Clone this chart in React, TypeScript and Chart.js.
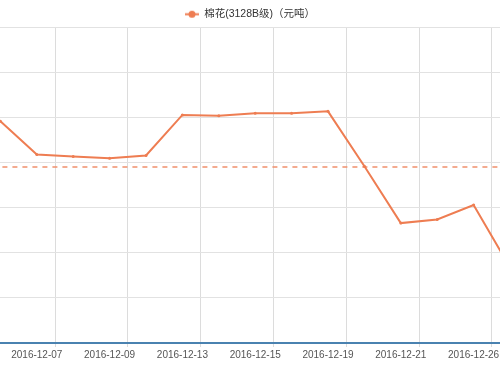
import React, { useEffect, useRef } from 'react';
import { Chart, registerables } from 'chart.js';

Chart.register(...registerables);

// Trading dates (category order) and cotton price values (yuan/ton)
const DATES = [
  '2016-12-06', '2016-12-07', '2016-12-08', '2016-12-09', '2016-12-12',
  '2016-12-13', '2016-12-14', '2016-12-15', '2016-12-16', '2016-12-19',
  '2016-12-20', '2016-12-21', '2016-12-22', '2016-12-26', '2016-12-27',
];
const PRICES = [
  15996, 15959, 15957, 15955, 15958,
  16003, 16002, 16005, 16005, 16007,
  15946, 15883, 15887, 15903, 15834,
];
const AVERAGE_PRICE = 15945;
const SERIES_NAME = '棉花(3128B级)（元吨）';

const Y_MIN = 15750;
const Y_MAX = 16100;
const Y_STEP = 50;

// visible window of the category index axis
const X_VIEW_MIN = -0.011;
const X_VIEW_MAX = 13.725;

const LINE_COLOR = '#ee7d52';

export default function App() {
  const ref = useRef<HTMLCanvasElement>(null);

  useEffect(() => {
    const canvas = ref.current;
    if (!canvas) return;

    const icon = document.createElement('canvas');
    icon.width = 14;
    icon.height = 9;
    const ictx = icon.getContext('2d')!;
    ictx.strokeStyle = LINE_COLOR;
    ictx.lineWidth = 2;
    ictx.beginPath();
    ictx.moveTo(0, 4.5);
    ictx.lineTo(14, 4.5);
    ictx.stroke();
    ictx.fillStyle = LINE_COLOR;
    ictx.beginPath();
    ictx.arc(7, 4.5, 3.5, 0, Math.PI * 2);
    ictx.fill();

    const avgPlugin = {
      id: 'avgLine',
      beforeDatasetsDraw(chart: any) {
        const { ctx, chartArea, scales } = chart;
        const y = scales.y.getPixelForValue(AVERAGE_PRICE);
        const x0 = scales.x.getPixelForValue(0);
        const x1 = scales.x.getPixelForValue(DATES.length - 1);
        ctx.save();
        ctx.beginPath();
        ctx.rect(chartArea.left, chartArea.top, chartArea.width, chartArea.height);
        ctx.clip();
        ctx.strokeStyle = '#f0906c';
        ctx.lineWidth = 1.5;
        ctx.setLineDash([5, 5]);
        ctx.beginPath();
        ctx.moveTo(x0 + 2, Math.round(y));
        ctx.lineTo(x1, Math.round(y));
        ctx.stroke();
        ctx.restore();
      },
    };

    const legendFit = {
      id: 'legendFit',
      beforeLayout(chart: any) {
        const lg = chart.legend;
        if (lg && !lg.__patched) {
          const orig = lg.fit;
          lg.fit = function () {
            orig.call(this);
            this.height -= 2;
          };
          lg.__patched = true;
        }
      },
    };

    const chart = new Chart(canvas, {
      type: 'line',
      data: {
        datasets: [
          {
            label: SERIES_NAME,
            data: PRICES.map((y, i) => ({ x: i, y })),
            borderColor: LINE_COLOR,
            backgroundColor: LINE_COLOR,
            borderWidth: 2,
            pointRadius: 1.5,
            pointBorderWidth: 0,
            pointBackgroundColor: LINE_COLOR,
            tension: 0,
            fill: false,
          },
        ],
      },
      options: {
        responsive: false,
        animation: false,
        layout: { autoPadding: false, padding: { top: 2, left: 0, right: 0, bottom: 12 } },
        plugins: {
          legend: {
            display: true,
            position: 'top',
            labels: {
              usePointStyle: true,
              pointStyle: icon as any,
              pointStyleWidth: 14,
              boxWidth: 14,
              padding: 7,
              color: '#333',
              font: { size: 10.5, family: "'Liberation Sans', 'Noto Sans CJK SC', sans-serif" },
            },
          },
          tooltip: { enabled: false },
        },
        scales: {
          x: {
            type: 'linear',
            min: X_VIEW_MIN,
            max: X_VIEW_MAX,
            afterBuildTicks: (scale: any) => {
              scale.ticks = DATES.map((_, i) => i)
                .filter((i) => i % 2 === 1)
                .map((i) => ({ value: i + 0.5 }));
            },
            afterFit: (scale: any) => {
              scale.paddingLeft = 0;
              scale.paddingRight = 0;
            },
            ticks: {
              autoSkip: false,
              maxRotation: 0,
              minRotation: 0,
              labelOffset: -18.2,
              padding: 2,
              color: '#555',
              font: { size: 10, family: "'Liberation Sans', Arial, sans-serif" },
              callback: (value: any) => DATES[Math.round(Number(value) - 0.5)] ?? '',
            },
            grid: {
              color: '#dcdcdc',
              lineWidth: 1,
              drawTicks: true,
              tickLength: 4,
            },
            border: { display: true, color: '#4a82b0', width: 2 },
          },
          y: {
            min: Y_MIN,
            max: Y_MAX,
            ticks: { display: false, stepSize: Y_STEP },
            grid: { color: '#e2e2e2', lineWidth: 1, drawTicks: false },
            border: { display: false },
          },
        },
      },
      plugins: [avgPlugin, legendFit],
    });

    return () => chart.destroy();
  }, []);

  return (
    <div
      style={{
        position: 'fixed',
        left: 0,
        top: 0,
        width: 500,
        height: 375,
        overflow: 'hidden',
        background: '#fff',
      }}
    >
      <canvas ref={ref} width={500} height={375} style={{ display: 'block' }} />
    </div>
  );
}
